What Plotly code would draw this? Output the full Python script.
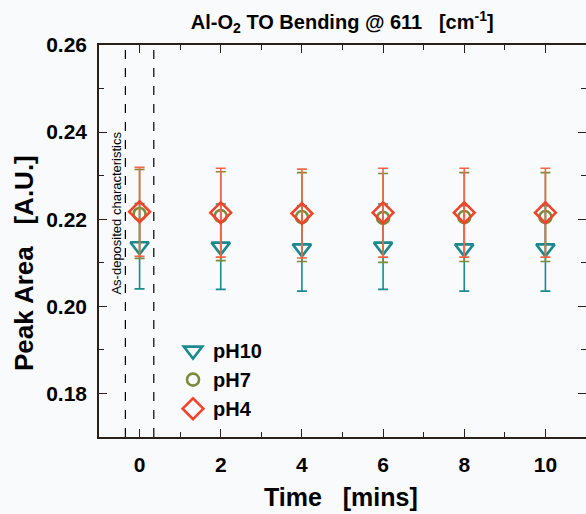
import plotly.graph_objects as go

time = [0, 2, 4, 6, 8, 10]
ph10 = [0.2138, 0.2137, 0.2133, 0.2137, 0.2133, 0.2133]
ph10_err = [0.0098, 0.0098, 0.0098, 0.0098, 0.0098, 0.0098]
ph7 = [0.2212, 0.2207, 0.2205, 0.2203, 0.2205, 0.2205]
ph7_err = [0.0102, 0.0102, 0.0102, 0.0102, 0.0102, 0.0102]
ph4 = [0.2217, 0.2215, 0.2213, 0.2215, 0.2215, 0.2215]
ph4_err = [0.0102, 0.0102, 0.0102, 0.0102, 0.0102, 0.0102]
asdep_bounds = [-0.35, 0.35]
y_ticks = [0.18, 0.20, 0.22, 0.24, 0.26]

FONT = "Liberation Sans, Arial, sans-serif"
AX = "#2b2019"
BG = "#f9fafc"

fig = go.Figure()
series = [
    ("pH10", ph10, ph10_err, "triangle-down-open", "#1b8a8e", "#1b8a8e", 16),
    ("pH7", ph7, ph7_err, "circle-open", "#7b8b3b", "#7b8b3b", 12),
    ("pH4", ph4, ph4_err, "diamond-open", "#f0432a", "#f2664a", 16),
]
for name, y, e, sym, col, ecol, size in series:
    fig.add_trace(go.Scatter(
        x=time, y=y, mode="markers", name=name,
        marker=dict(symbol=sym, size=size, color=col, line=dict(width=2.6, color=col)),
        error_y=dict(type="data", array=e, visible=True, color=ecol, thickness=1.6, width=5),
    ))

for xv in asdep_bounds:
    fig.add_shape(type="line", x0=xv, x1=xv, y0=0, y1=1, xref="x", yref="paper",
                  line=dict(color="black", width=1.2, dash="dash"))

fig.add_annotation(x=-0.57, y=0.2214, xref="x", yref="y", text="As-deposited characteristics",
                   textangle=-90, showarrow=False,
                   font=dict(family=FONT, size=13, color="black"))

# axis titles as annotations for exact placement
fig.add_annotation(x=24, y=263, xref="paper", yref="paper", text="<b>Peak Area   [A.U.]</b>",
                   textangle=-90, showarrow=False,
                   font=dict(family=FONT, size=26, color="black"))
fig.add_annotation(x=341, y=497, xref="paper", yref="paper", text="<b>Time   [mins]</b>",
                   showarrow=False, font=dict(family=FONT, size=25, color="black"))

# convert pixel positions of the two axis-title annotations to paper coords
L, T, PW, PH = 99, 45, 487, 392
for ann in fig.layout.annotations[1:]:
    px, py = ann.x, ann.y
    ann.x = (px - L) / PW
    ann.y = (T + PH - py) / PH
    ann.xanchor = "center"
    ann.yanchor = "middle"

fig.update_layout(
    width=586, height=514,
    margin=dict(l=L, r=586 - L - PW, t=T, b=514 - T - PH, autoexpand=False),
    paper_bgcolor=BG, plot_bgcolor=BG,
    title=dict(text="<b>Al-O<sub>2</sub> TO Bending @ 611   [cm<sup>-1</sup>]</b>",
               x=0.584, xanchor="center", y=0.957, yanchor="middle",
               font=dict(family=FONT, size=20, color="black")),
    showlegend=True,
    legend=dict(x=0.152, y=0.27, xanchor="left", yanchor="top", bgcolor="rgba(0,0,0,0)",
                font=dict(family=FONT, size=20, color="black", weight="bold"),
                itemsizing="trace", tracegroupgap=0),
    xaxis=dict(range=[-1, 11], tickvals=time, ticktext=[str(t) for t in time],
               ticks="inside", ticklen=8, tickwidth=1.3, tickcolor=AX,
               minor=dict(dtick=1, ticks="inside", ticklen=5, tickwidth=1.3, tickcolor=AX),
               showline=True, linecolor=AX, linewidth=1.6, mirror="ticks",
               showgrid=False, zeroline=False, automargin=False, ticklabelstandoff=8,
               tickfont=dict(family=FONT, size=21, color="black", weight="bold")),
    yaxis=dict(range=[0.17, 0.26], tickvals=y_ticks, ticktext=["%.2f" % v for v in y_ticks],
               ticks="inside", ticklen=8, tickwidth=1.3, tickcolor=AX,
               minor=dict(dtick=0.01, ticks="inside", ticklen=5, tickwidth=1.3, tickcolor=AX),
               showline=True, linecolor=AX, linewidth=1.6, mirror="ticks",
               showgrid=False, zeroline=False, automargin=False, ticklabelstandoff=6,
               tickfont=dict(family=FONT, size=21, color="black", weight="bold")),
)

fig.write_html("out.html", config={"displayModeBar": False},
               post_script="document.body.style.margin='0px';document.body.style.overflow='hidden';document.body.style.background='%s';" % BG)
